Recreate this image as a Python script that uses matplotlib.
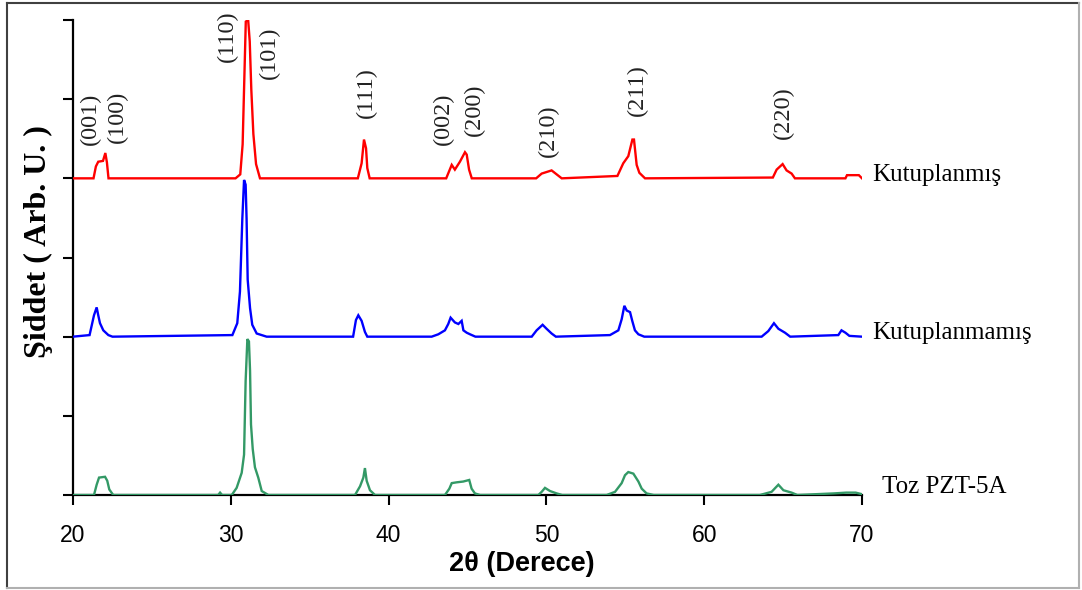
import matplotlib
matplotlib.use("Agg")
import matplotlib.pyplot as plt
from matplotlib.lines import Line2D

# ---- data (2θ, relative intensity) ----
red_pts = [(20.0, 0), (21.3, 0), (21.45, 0.15), (21.6, 0.21), (21.9, 0.22), (22.05, 0.32), (22.15, 0.2), (22.25, 0),
           (30.3, 0), (30.6, 0.05), (30.75, 0.43), (30.95, 1.98), (31.1, 2.0), (31.2, 1.73), (31.3, 1.12), (31.43, 0.56),
           (31.6, 0.18), (31.85, 0), (38.05, 0), (38.29, 0.19), (38.44, 0.49), (38.57, 0.38), (38.65, 0.13), (38.8, 0),
           (43.65, 0), (44.0, 0.17), (44.2, 0.11), (44.52, 0.21), (44.84, 0.33), (44.95, 0.30), (45.1, 0.11), (45.27, 0),
           (49.35, 0), (49.7, 0.06), (50.33, 0.1), (50.65, 0.05), (50.97, 0),
           (54.5, 0.03), (54.87, 0.19), (55.19, 0.28), (55.45, 0.49), (55.55, 0.49), (55.72, 0.17), (55.89, 0.07), (56.25, 0),
           (64.35, 0.01), (64.59, 0.11), (64.97, 0.18), (65.22, 0.10), (65.54, 0.06), (65.75, 0),
           (68.95, 0), (69.05, 0.04), (69.8, 0.04), (70.0, 0)]

blue_pts = [(20.0, 0), (21.05, 0.02), (21.33, 0.27), (21.5, 0.37), (21.6, 0.27), (21.71, 0.17), (21.92, 0.08), (22.24, 0.02), (22.5, 0),
            (30.1, 0.02), (30.41, 0.17), (30.58, 0.57), (30.73, 1.49), (30.84, 1.98), (30.94, 1.92), (31.0, 1.49), (31.07, 0.72),
            (31.22, 0.36), (31.36, 0.15), (31.64, 0.04), (32.27, 0),
            (37.75, 0), (37.93, 0.21), (38.08, 0.27), (38.29, 0.2), (38.5, 0.06), (38.65, 0),
            (42.73, 0), (43.15, 0.03), (43.57, 0.08), (43.78, 0.16), (43.93, 0.24), (44.2, 0.18), (44.42, 0.16), (44.63, 0.2),
            (44.74, 0.08), (44.95, 0.05), (45.16, 0.03), (45.5, 0),
            (49.07, 0), (49.38, 0.08), (49.76, 0.15), (50.01, 0.1), (50.33, 0.04), (50.6, 0),
            (54.03, 0.02), (54.56, 0.08), (54.77, 0.22), (54.94, 0.39), (55.09, 0.33), (55.3, 0.31), (55.44, 0.2), (55.61, 0.08),
            (55.83, 0.03), (56.2, 0),
            (63.64, 0), (64.06, 0.07), (64.42, 0.17), (64.7, 0.1), (65.12, 0.05), (65.45, 0),
            (68.5, 0.02), (68.7, 0.08), (68.95, 0.05), (69.2, 0.01), (70.0, 0)]

green_pts = [(20.0, 0), (21.33, 0), (21.5, 0.13), (21.65, 0.22), (22.03, 0.23), (22.17, 0.18), (22.3, 0.07), (22.55, 0),
             (29.2, 0), (29.32, 0.03), (29.45, 0), (30.06, 0), (30.37, 0.09), (30.69, 0.28), (30.84, 0.51), (30.94, 1.44),
             (31.05, 1.97), (31.15, 1.94), (31.22, 1.57), (31.28, 0.89), (31.39, 0.58), (31.53, 0.35), (31.74, 0.22),
             (31.96, 0.05), (32.38, 0),
             (37.87, 0), (38.19, 0.11), (38.4, 0.22), (38.5, 0.34), (38.61, 0.18), (38.82, 0.06), (39.14, 0),
             (43.57, 0), (43.85, 0.08), (44.0, 0.15), (44.31, 0.16), (44.73, 0.17), (45.11, 0.19), (45.26, 0.08), (45.47, 0.02), (45.8, 0),
             (49.49, 0), (49.7, 0.04), (49.91, 0.09), (50.23, 0.05), (50.65, 0.02), (51.0, 0),
             (53.82, 0), (54.35, 0.04), (54.77, 0.15), (54.98, 0.25), (55.19, 0.29), (55.51, 0.27), (55.83, 0.17),
             (56.04, 0.08), (56.35, 0.02), (56.8, 0),
             (63.53, 0), (64.27, 0.04), (64.7, 0.13), (65.02, 0.06), (65.54, 0.03), (65.9, 0),
             (68.2, 0.02), (69.0, 0.03), (69.6, 0.03), (70.0, 0.01)]

series_names = ["Kutuplanmış", "Kutuplanmamış", "Toz PZT-5A"]
series_offsets = [4, 2, 0]
series_colors = ["#FF0000", "#0000FF", "#339966"]

peak_labels = ["(001)", "(100)", "(110)", "(101)", "(111)", "(002)", "(200)", "(210)", "(211)", "(220)"]
peak_label_x = [21.08, 22.79, 29.76, 32.42, 38.57, 43.45, 45.41, 50.1, 55.74, 64.99]
peak_label_y = [4.75, 4.78, 5.80, 5.59, 5.08, 4.75, 4.87, 4.60, 5.11, 4.83]

x_ticks = [20, 30, 40, 50, 60, 70]
y_ticks = [0, 1, 2, 3, 4, 5, 6]

# ---- figure ----
fig = plt.figure(figsize=(10.82, 5.90), dpi=100)
ax = fig.add_axes([73 / 1082, 1 - 495 / 590, (862 - 73) / 1082, (495 - 20) / 590])

serif = ["Liberation Serif", "DejaVu Serif"]
sans = ["Liberation Sans", "DejaVu Sans"]

for pts, off, col in zip([red_pts, blue_pts, green_pts], series_offsets, series_colors):
    xs = [p[0] for p in pts]
    ys = [p[1] + off for p in pts]
    ax.plot(xs, ys, color=col, lw=1.7, solid_joinstyle="miter", zorder=3)

label_pos = [(70.62, 4.04), (70.62, 2.05), (71.25, 0.10)]
for name, (lx, ly) in zip(series_names, label_pos):
    ax.text(lx, ly, name, family=serif, fontsize=18, ha="left", va="center", clip_on=False)

for t, lx, ly in zip(peak_labels, peak_label_x, peak_label_y):
    ax.text(lx, ly, t, family=serif, fontsize=17.5, rotation=90, ha="center", va="center",
            color="#222222", clip_on=False)

ax.set_xlim(20, 70)
ax.set_ylim(0, 6)
ax.set_xticks(x_ticks)
ax.set_yticks(y_ticks)
ax.set_yticklabels([])
ax.set_xticklabels([str(v) for v in x_ticks], family=sans, fontsize=16.5)
ax.tick_params(axis="x", direction="out", length=7, width=1.5, pad=14, colors="black")
ax.tick_params(axis="y", direction="out", length=7, width=1.5)
for s in ["top", "right"]:
    ax.spines[s].set_visible(False)
for s in ["left", "bottom"]:
    ax.spines[s].set_linewidth(1.6)
    ax.spines[s].set_color("black")

fig.text(522 / 1082, 1 - 564 / 590, "2θ (Derece)", family=sans, fontsize=19.5, fontweight="bold",
         ha="center", va="center")
fig.text(38 / 1082, 1 - 242 / 590, "Şiddet ( Arb. U. )", family=serif, fontsize=23, fontweight="bold",
         rotation=90, ha="center", va="center")

# outer frame
W, H = 1082, 590
fig.add_artist(Line2D([7 / W, 7 / W], [1 - 3 / H, 1 - 588 / H], color="#404040", lw=1.5, transform=fig.transFigure))
fig.add_artist(Line2D([7 / W, 1079 / W], [1 - 3 / H, 1 - 3 / H], color="#404040", lw=1.5, transform=fig.transFigure))
fig.add_artist(Line2D([1079 / W, 1079 / W], [1 - 3 / H, 1 - 588 / H], color="#b0b0b0", lw=1.5, transform=fig.transFigure))
fig.add_artist(Line2D([7 / W, 1079 / W], [1 - 588 / H, 1 - 588 / H], color="#b0b0b0", lw=1.5, transform=fig.transFigure))

fig.savefig("out.png", dpi=100)
